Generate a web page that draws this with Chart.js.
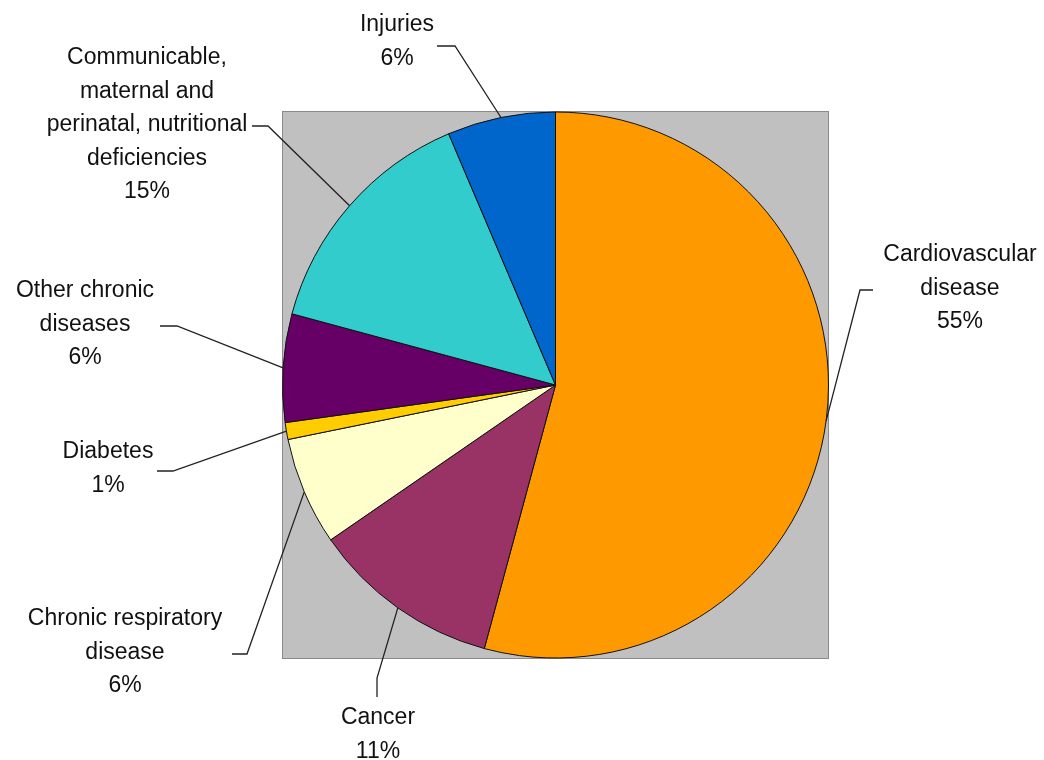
<!DOCTYPE html>
<html>
<head>
<meta charset="utf-8">
<script src="https://cdn.jsdelivr.net/npm/chart.js@4.4.1/dist/chart.umd.min.js"></script>
<style>
  html, body { margin: 0; padding: 0; background: #fff; overflow: hidden; }
  canvas { display: block; }
</style>
</head>
<body>
<canvas id="pie" width="1044" height="760"></canvas>
<script>
// slices, clockwise from 12 o'clock
const categories = ['Cardiovascular disease', 'Cancer', 'Chronic respiratory disease', 'Diabetes',
  'Other chronic diseases', 'Communicable, maternal and perinatal, nutritional deficiencies', 'Injuries'];
const shares = [54.2, 11.2, 6.4, 1.0, 6.4, 14.4, 6.4];
const shareLabels = ['55%', '11%', '6%', '1%', '6%', '15%', '6%'];
const labelLines = [
  ['Cardiovascular', 'disease'],
  ['Cancer'],
  ['Chronic respiratory', 'disease'],
  ['Diabetes'],
  ['Other chronic', 'diseases'],
  ['Communicable,', 'maternal and', 'perinatal, nutritional', 'deficiencies'],
  ['Injuries']
];
const sliceColors = ['#ff9900', '#993366', '#ffffcc', '#ffcc00', '#660066', '#33cccc', '#0066cc'];

// where each label block sits and where its leader leaves it: [textX, firstLineY, startX, startY, elbowX, elbowY]
const labelLayout = [
  [960, 255, 873, 290, 860, 290],
  [378, 718, 377, 697, 377, 678],
  [125, 619, 232, 654, 247, 654],
  [108, 452, 157, 471, 173, 471],
  [85, 291, 160, 326, 177, 326],
  [147, 58, 252, 126, 268, 126],
  [397, 25, 437, 46, 455, 46]
];
const lineGap = 33.5;

const plotBox = {
  id: 'plotBox',
  beforeDatasetsDraw(chart) {
    const { ctx, chartArea: a } = chart;
    ctx.save();
    ctx.fillStyle = '#c0c0c0';
    ctx.fillRect(a.left, a.top, a.right - a.left, a.bottom - a.top);
    ctx.strokeStyle = '#8a8a8a';
    ctx.lineWidth = 1;
    ctx.strokeRect(a.left + 0.5, a.top + 0.5, a.right - a.left - 1, a.bottom - a.top - 1);
    ctx.restore();
  }
};

const leaderLabels = {
  id: 'leaderLabels',
  afterDraw(chart) {
    const ctx = chart.ctx;
    const arcs = chart.getDatasetMeta(0).data;
    ctx.save();
    arcs.forEach((arc, i) => {
      const p = arc.getProps(['x', 'y', 'startAngle', 'endAngle', 'outerRadius'], true);
      const mid = (p.startAngle + p.endAngle) / 2;
      const ex = p.x + Math.cos(mid) * p.outerRadius;
      const ey = p.y + Math.sin(mid) * p.outerRadius;
      const [tx, ty, sx, sy, bx, by] = labelLayout[i];
      ctx.strokeStyle = '#222';
      ctx.lineWidth = 1.3;
      ctx.beginPath();
      ctx.moveTo(sx, sy);
      ctx.lineTo(bx, by);
      ctx.lineTo(ex, ey);
      ctx.stroke();

      ctx.fillStyle = '#111';
      ctx.font = '23px "Liberation Sans", Arial, sans-serif';
      ctx.textAlign = 'center';
      ctx.textBaseline = 'middle';
      const lines = labelLines[i].concat([shareLabels[i]]);
      lines.forEach((t, k) => ctx.fillText(t, tx, ty + k * lineGap));
    });
    ctx.restore();
  }
};

new Chart(document.getElementById('pie'), {
  type: 'pie',
  data: {
    labels: categories,
    datasets: [{
      data: shares,
      backgroundColor: sliceColors,
      borderColor: '#111',
      borderWidth: 1
    }]
  },
  options: {
    responsive: false,
    animation: false,
    devicePixelRatio: 1,
    layout: { padding: { left: 282, right: 215, top: 111, bottom: 101 } },
    plugins: {
      legend: { display: false },
      tooltip: { enabled: false }
    }
  },
  plugins: [plotBox, leaderLabels]
});
</script>
</body>
</html>
